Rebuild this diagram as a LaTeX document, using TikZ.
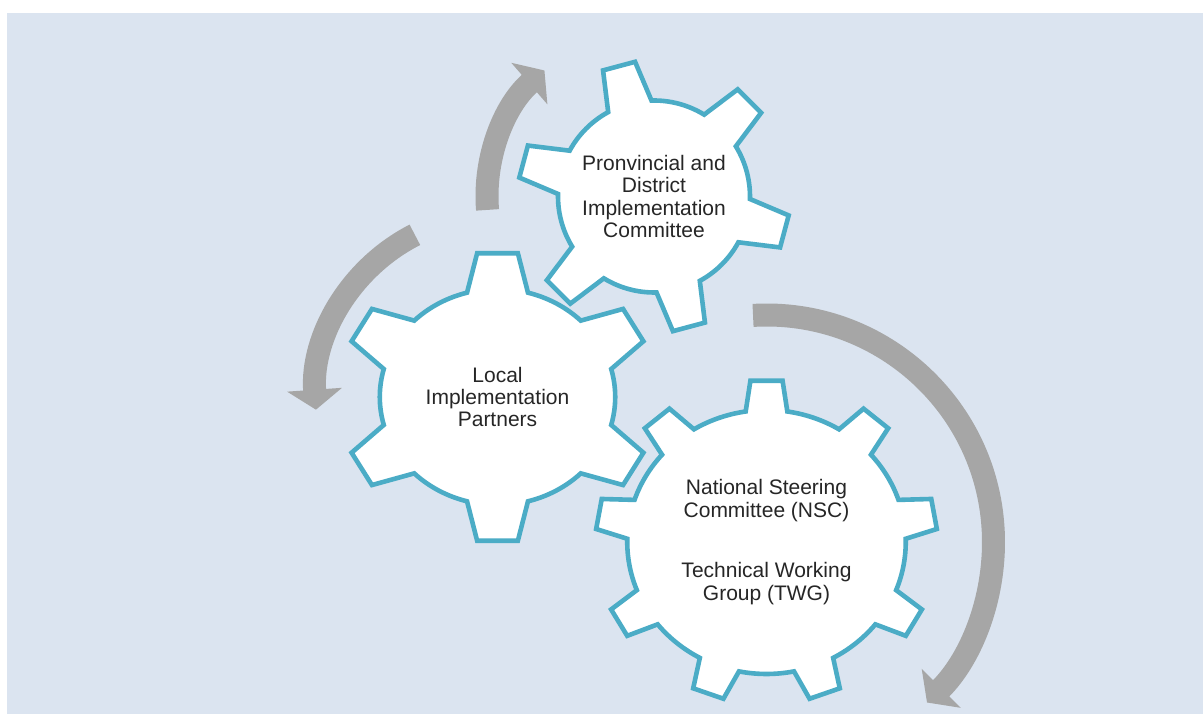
\documentclass[tikz,border=0pt]{standalone}
\usepackage{fontspec}
\setmainfont{Liberation Sans}
\usetikzlibrary{arrows.meta}
\definecolor{bgblue}{RGB}{219,228,240}
\definecolor{gearblue}{RGB}{75,172,198}
\definecolor{arrowgrey}{RGB}{166,166,166}
\tikzset{
  gear/.style={draw=gearblue, line width=4.6pt, fill=white, line join=miter},
  cycle arrow/.style={draw=arrowgrey, line width=23pt, -{Triangle[width=54pt,length=20pt]}},
  gear text/.style={align=center, font=\fontsize{21}{22.3}\selectfont, text=black!85}
}
% cog outline: #1 teeth, #2 outer radius, #3 root radius, #4 half angle at root, #5 half angle at tip
\newcommand{\cog}[5]{%
  \draw[gear] (90-#4:#3)
    \foreach \k in {1,...,#1}{
      -- ({90+(\k-1)*360/#1-#5}:#2) -- ({90+(\k-1)*360/#1+#5}:#2)
      -- ({90+(\k-1)*360/#1+#4}:#3)
      arc[start angle={90+(\k-1)*360/#1+#4}, end angle={90+\k*360/#1-#4}, radius=#3]
    } -- cycle;}

\begin{document}
\begin{tikzpicture}[x=1pt, y=1pt]
\useasboundingbox (0,0) rectangle (1203,714);
\fill[bgblue] (7,0) rectangle (1203,701);

\coordinate (provincial) at (654,517.5);
\coordinate (local) at (497.5,317);
\coordinate (national) at (766.5,172);

% turning arrows
\draw[cycle arrow] ([shift={(184.6:167)}]provincial) arc[start angle=184.6, end angle=131, radius=167];
\draw[cycle arrow] ([shift={(117:182)}]local) arc[start angle=117, end angle=184, radius=182];
\draw[cycle arrow] ([shift={(93.4:227)}]national) arc[start angle=93.4, end angle=-45, radius=227];

% the three cogs
\begin{scope}[shift={(provincial)}, rotate=15]
  \cog{6}{136}{96}{13.5}{7}
\end{scope}
\begin{scope}[shift={(local)}, xscale=1.09]
  \cog{6}{145}{108}{15}{7.4}
\end{scope}
\begin{scope}[shift={(national)}, xscale=1.055]
  \cog{9}{162}{132}{8.6}{5.4}
\end{scope}

\node[gear text] (provincial label) at (provincial) {Pronvincial and\\District\\Implementation\\Committee};
\node[gear text] (local label) at (local) {Local\\Implementation\\Partners};
\node[gear text] (national label) at (national) {National Steering\\Committee (NSC)\\[38.5pt]Technical Working\\Group (TWG)};

\end{tikzpicture}
\end{document}
